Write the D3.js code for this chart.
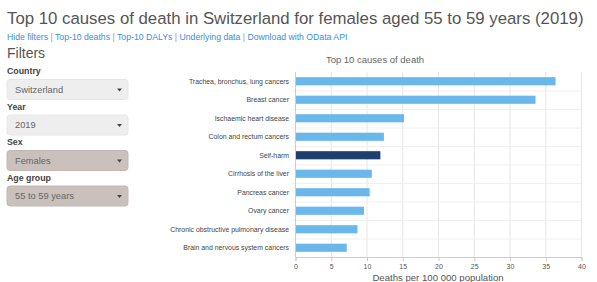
<!DOCTYPE html>
<html>
<head>
<meta charset="utf-8">
<script src="https://cdn.jsdelivr.net/npm/d3@7"></script>
<style>
  body { margin: 0; background: #fff; font-family: "Liberation Sans", Arial, sans-serif; }
  svg text { font-family: "Liberation Sans", Arial, sans-serif; }
</style>
</head>
<body>
<svg id="fig" width="597" height="282"></svg>
<script>
const causes = [
    "Trachea, bronchus, lung cancers",
    "Breast cancer",
    "Ischaemic heart disease",
    "Colon and rectum cancers",
    "Self-harm",
    "Cirrhosis of the liver",
    "Pancreas cancer",
    "Ovary cancer",
    "Chronic obstructive pulmonary disease",
    "Brain and nervous system cancers"
];
const deaths = [36.3, 33.5, 15.1, 12.3, 11.8, 10.6, 10.3, 9.5, 8.6, 7.1];
const highlighted = "Self-harm";
const xTicks = [0, 5, 10, 15, 20, 25, 30, 35, 40];

const links = ["Hide filters", "Top-10 deaths", "Top-10 DALYs", "Underlying data", "Download with OData API"];
const filterLabels = ["Country", "Year", "Sex", "Age group"];
const filterValues = ["Switzerland", "2019", "Females", "55 to 59 years"];
const filterActive = [false, false, true, true];

const data = causes.map((c, i) => ({cause: c, value: deaths[i]}));

const Fig = d3.select("#fig");

// Page title
Fig.append("text")
    .attr("x", 7)
    .attr("y", 24)
    .attr("font-size", 16.8)
    .attr("fill", "#555")
    .text("Top 10 causes of death in Switzerland for females aged 55 to 59 years (2019)");

// Link line
const linkText = Fig.append("text")
    .attr("x", 7)
    .attr("y", 40)
    .attr("font-size", 8.7);
links.forEach((l, i) => {
    if (i > 0) linkText.append("tspan").attr("fill", "#999").text(" | ");
    linkText.append("tspan").attr("fill", "#3a8fd6").text(l);
});

// Filters panel
Fig.append("text")
    .attr("x", 7)
    .attr("y", 58)
    .attr("font-size", 14)
    .attr("fill", "#555")
    .text("Filters");

const filterY = d3.scaleBand()
    .domain(filterLabels)
    .range([64, 206]);

const filters = Fig.append("g")
    .selectAll("g")
    .data(filterLabels)
    .join("g")
    .attr("transform", d => `translate(0,${filterY(d)})`);

filters.append("text")
    .attr("x", 7)
    .attr("y", 10)
    .attr("font-size", 8.8)
    .attr("font-weight", "bold")
    .attr("fill", "#444")
    .text(d => d);

filters.append("rect")
    .attr("x", 7)
    .attr("y", 15.5)
    .attr("width", 121)
    .attr("height", 20)
    .attr("rx", 3)
    .attr("fill", (d, i) => filterActive[i] ? "#cbc1bc" : "#eeeeee")
    .attr("stroke", (d, i) => filterActive[i] ? "#c2b7b2" : "#e6e6e6");

filters.append("text")
    .attr("x", 15)
    .attr("y", 28.8)
    .attr("font-size", 9.3)
    .attr("fill", "#666")
    .text((d, i) => filterValues[i]);

filters.append("path")
    .attr("d", "M117,24.5 L122,24.5 L119.5,27.5 Z")
    .attr("fill", "#444");

// Bar chart
const xScale = d3.scaleLinear()
    .domain([0, 40])
    .range([295.5, 581.5]);

const yScale = d3.scaleBand()
    .domain(causes)
    .range([72, 257])
    .paddingInner(0.56)
    .paddingOuter(0.28);

Fig.append("text")
    .attr("x", 375)
    .attr("y", 63)
    .attr("text-anchor", "middle")
    .attr("font-size", 9.5)
    .attr("fill", "#666")
    .text("Top 10 causes of death");

// vertical grid
Fig.append("g")
    .selectAll("line")
    .data(xTicks.slice(1))
    .join("line")
    .attr("x1", d => xScale(d))
    .attr("x2", d => xScale(d))
    .attr("y1", 72)
    .attr("y2", 257)
    .attr("stroke", "#e6e6e6");

// horizontal grid at band edges
const bandEdges = causes.map((c, i) => 72 + i * yScale.step());
Fig.append("g")
    .selectAll("line")
    .data(bandEdges.slice(1))
    .join("line")
    .attr("x1", 292)
    .attr("x2", 581.5)
    .attr("y1", d => d + 0.5)
    .attr("y2", d => d + 0.5)
    .attr("stroke", "#f0f0f0");

Fig.append("line")
    .attr("x1", 295.5).attr("x2", 295.5)
    .attr("y1", 72).attr("y2", 257)
    .attr("stroke", "#ccc");

Fig.append("g")
    .selectAll("rect")
    .data(data)
    .join("rect")
    .attr("x", xScale(0) + 0.5)
    .attr("y", d => yScale(d.cause))
    .attr("width", d => xScale(d.value) - xScale(0))
    .attr("height", yScale.bandwidth())
    .attr("fill", d => d.cause === highlighted ? "#1d3f6e" : "#69b7eb");

// category labels
Fig.append("g")
    .selectAll("text")
    .data(causes)
    .join("text")
    .attr("x", 289)
    .attr("y", d => yScale(d) + yScale.bandwidth() / 2 + 2.3)
    .attr("text-anchor", "end")
    .attr("font-size", 6.9)
    .attr("fill", "#444")
    .text(d => d);

// x axis
const x_axis = d3.axisBottom(xScale).tickValues(xTicks).tickSize(4).tickPadding(3);
const xAxisG = Fig.append("g")
    .attr("transform", "translate(0,257)")
    .call(x_axis);
xAxisG.select(".domain").attr("stroke", "#ccc");
xAxisG.selectAll(".tick line").attr("stroke", "#ccc");
xAxisG.selectAll(".tick text")
    .attr("font-size", 7)
    .attr("fill", "#555")
    .style("font-family", "Liberation Sans, Arial, sans-serif");

Fig.append("text")
    .attr("x", 438)
    .attr("y", 281)
    .attr("text-anchor", "middle")
    .attr("font-size", 9.6)
    .attr("fill", "#555")
    .text("Deaths per 100 000 population");
</script>
</body>
</html>
